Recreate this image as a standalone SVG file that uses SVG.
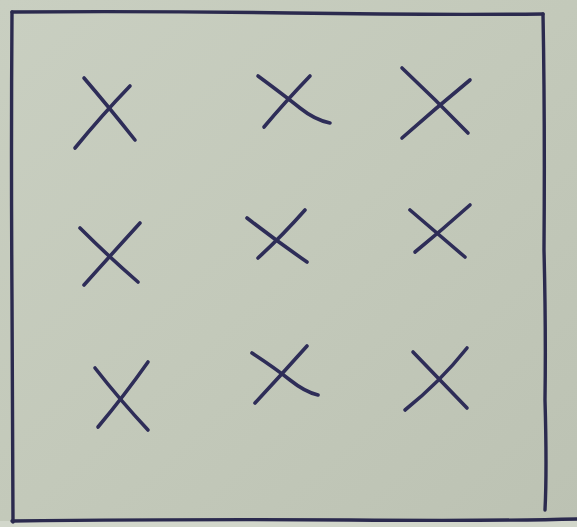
<svg xmlns="http://www.w3.org/2000/svg" width="577" height="527" viewBox="0 0 577 527">
<defs>
<linearGradient id="bg" x1="0" y1="0" x2="1" y2="1">
<stop offset="0" stop-color="#c9cfc1"/>
<stop offset="0.5" stop-color="#c3c9ba"/>
<stop offset="1" stop-color="#bcc2b3"/>
</linearGradient>
<style>
.ink{fill:none;stroke:#2e2d58;stroke-width:3.6;stroke-linecap:round;stroke-linejoin:round}
.frame{fill:none;stroke:#2b2a4e;stroke-width:3.4;stroke-linecap:round}
</style>
</defs>
<rect width="577" height="527" fill="url(#bg)"/>
<rect x="0" y="521" width="577" height="6" fill="#d2d7cb"/>
<g id="frame">
<path class="frame" d="M12 12 Q150 11 290 13 T543 14"/>
<path class="frame" d="M12 12 Q11 150 12 300 T13 522"/>
<path class="frame" d="M543 14 Q545 120 544 250 Q546 330 545 400 Q547 470 545 510"/>
<path class="frame" d="M12 521 Q200 519 350 520 T577 519"/>
</g>
<g id="marks">
<g id="x1"><path class="ink" d="M84 78 Q108 106 135 140"/><path class="ink" d="M130 86 Q102 115 75 148"/></g>
<g id="x2"><path class="ink" d="M258 76 Q285 96 300 108 Q315 120 330 123"/><path class="ink" d="M310 76 Q285 102 264 127"/></g>
<g id="x3"><path class="ink" d="M402 68 Q436 100 468 133"/><path class="ink" d="M470 80 Q436 108 402 138"/></g>
<g id="x4"><path class="ink" d="M80 228 Q108 256 138 282"/><path class="ink" d="M140 223 Q110 256 84 285"/></g>
<g id="x5"><path class="ink" d="M247 218 Q278 242 307 262"/><path class="ink" d="M305 210 Q282 236 258 258"/></g>
<g id="x6"><path class="ink" d="M410 210 Q438 234 465 257"/><path class="ink" d="M470 205 Q442 230 415 252"/></g>
<g id="x7"><path class="ink" d="M95 368 Q120 400 148 430"/><path class="ink" d="M148 362 Q124 396 98 427"/></g>
<g id="x8"><path class="ink" d="M252 353 Q275 368 290 380 Q305 392 318 395"/><path class="ink" d="M307 346 Q282 374 255 403"/></g>
<g id="x9"><path class="ink" d="M413 352 Q440 380 467 408"/><path class="ink" d="M467 348 Q440 382 405 410"/></g>
</g>
</svg>
